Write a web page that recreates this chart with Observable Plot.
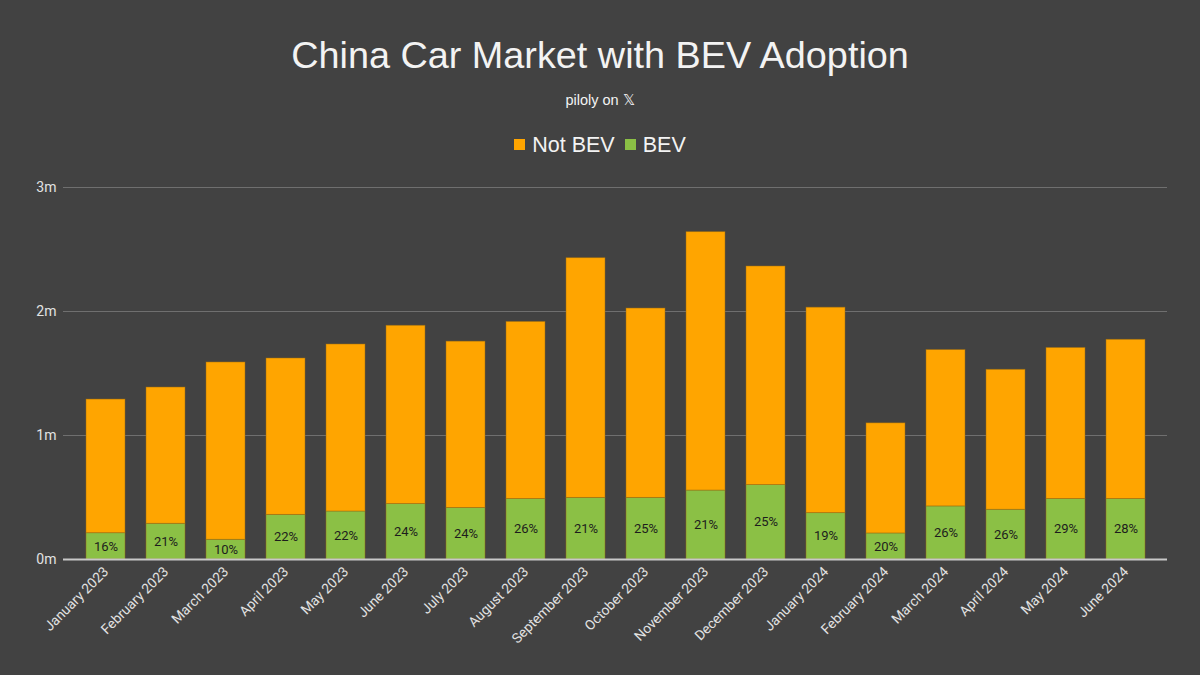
<!DOCTYPE html>
<html><head><meta charset="utf-8">
<script src="https://cdn.jsdelivr.net/npm/d3@7"></script>
<script src="https://cdn.jsdelivr.net/npm/@observablehq/plot@0.6"></script>
<style>
body{margin:0;background:#424242;}
#wrap{position:relative;width:1200px;height:675px;background:#424242;overflow:hidden;font-family:"Liberation Sans",Arial,sans-serif;}
#title{position:absolute;top:33px;left:0;width:1200px;text-align:center;color:#f3f3f3;font-size:37.8px;line-height:44px;}
#sub{position:absolute;top:91px;left:0;width:1200px;text-align:center;color:#f3f3f3;font-size:14.5px;line-height:18px;}
#legend{position:absolute;top:131px;left:0;width:1200px;text-align:center;color:#f3f3f3;font-size:21.5px;line-height:28px;}
#legend .sw{display:inline-block;width:11px;height:11px;margin-right:7px;vertical-align:2px;}
#legend .item{margin:0 5px;}
#chart{position:absolute;top:170px;left:0;}
</style></head>
<body><div id="wrap">
<div id="title">China Car Market with BEV Adoption</div>
<div id="sub">piloly on 𝕏</div>
<div id="legend"></div>
<div id="chart"></div>
</div>
<script>
const months = ["January 2023","February 2023","March 2023","April 2023","May 2023","June 2023","July 2023","August 2023","September 2023","October 2023","November 2023","December 2023","January 2024","February 2024","March 2024","April 2024","May 2024","June 2024"];
// millions of cars
const bev = [0.212,0.288,0.159,0.360,0.387,0.447,0.416,0.488,0.497,0.497,0.556,0.600,0.374,0.210,0.428,0.401,0.488,0.488];
const notBev = [1.078,1.099,1.430,1.261,1.347,1.438,1.341,1.428,1.933,1.527,2.084,1.763,1.657,0.888,1.261,1.129,1.218,1.284];
const pctLabels = ["16%","21%","10%","22%","22%","24%","24%","26%","21%","25%","21%","25%","19%","20%","26%","26%","29%","28%"];
const seriesNames = ["Not BEV","BEV"];
const seriesColors = ["#ffa500","#8bc045"];
const yTicks = [0,1,2,3];

const legend = document.getElementById("legend");
legend.innerHTML = seriesNames.map((s,i)=>`<span class="item"><span class="sw" style="background:${seriesColors[i]}"></span>${s}</span>`).join("");

const long = [];
months.forEach((m,i)=>{
  long.push({month:m, series:"BEV", value:bev[i]});
  long.push({month:m, series:"Not BEV", value:notBev[i]});
});
const labels = months.map((m,i)=>({month:m, mid:bev[i]/2, text:pctLabels[i]}));

const chart = Plot.plot({
  width:1200, height:505,
  marginTop:17, marginBottom:116, marginLeft:63, marginRight:33,
  style:{background:"transparent", color:"#e2e2e2", fontFamily:"Roboto, sans-serif"},
  x:{domain:months, paddingInner:0.35, paddingOuter:0.36, label:null},
  y:{domain:[0,3], label:null},
  color:{domain:seriesNames, range:seriesColors},
  marks:[
    Plot.gridY(yTicks.filter(d=>d>0), {stroke:"#6f6f6f", strokeOpacity:1}),
    Plot.barY(long, Plot.stackY({x:"month", y:"value", fill:"series", order:["BEV","Not BEV"], stroke:"#9a6a10", strokeOpacity:0.6, strokeWidth:0.8})),
    Plot.text(labels, {x:"month", y:"mid", text:"text", fill:"#1d1d1d", fontSize:13}),
    Plot.ruleY([0], {stroke:"#c8c8c8", strokeWidth:2}),
    Plot.axisX({tickRotate:-45, tickSize:0, tickPadding:10, fontSize:13.8, label:null}),
    Plot.axisY({ticks:yTicks, tickFormat:d=>d+"m", tickSize:0, tickPadding:7, fontSize:14, label:null})
  ]
});
document.getElementById("chart").appendChild(chart);
</script>
</body></html>
